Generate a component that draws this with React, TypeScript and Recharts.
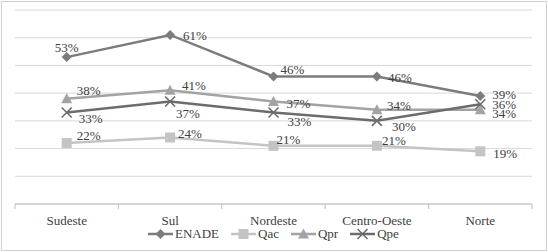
import React from "react";
import { LineChart, Line, XAxis, YAxis, CartesianGrid, LabelList } from "recharts";

// Regions and percentage values per indicator
const regions = ["Sudeste", "Sul", "Nordeste", "Centro-Oeste", "Norte"];
const enade = [53, 61, 46, 46, 39];
const qac = [22, 24, 21, 21, 19];
const qpr = [38, 41, 37, 34, 34];
const qpe = [33, 37, 33, 30, 36];
const yTicks = [0, 10, 20, 30, 40, 50, 60, 70];

const data = regions.map((region, i) => ({
  region,
  ENADE: enade[i],
  Qac: qac[i],
  Qpr: qpr[i],
  Qpe: qpe[i],
}));

const W = 548;
const H = 252;
const MARGIN = { top: 10, right: 16, bottom: 28, left: 15 };
const BAND = (W - MARGIN.left - MARGIN.right) / regions.length;
const FONT = "'Liberation Serif', 'Times New Roman', serif";
const TEXT = "#404040";

const COLORS = {
  ENADE: "#7c7c7c",
  Qac: "#c4c4c4",
  Qpr: "#a3a3a3",
  Qpe: "#6c6c6c",
};

type MarkerKind = "diamond" | "square" | "triangle" | "cross";

const Marker = ({ kind, cx, cy, color }: { kind: MarkerKind; cx: number; cy: number; color: string }) => {
  if (kind === "diamond") {
    const r = 5;
    return <polygon points={`${cx},${cy - r} ${cx + r},${cy} ${cx},${cy + r} ${cx - r},${cy}`} fill={color} />;
  }
  if (kind === "square") {
    const r = 5;
    return <rect x={cx - r} y={cy - r} width={2 * r} height={2 * r} fill={color} />;
  }
  if (kind === "triangle") {
    const r = 5.5;
    return <polygon points={`${cx},${cy - r} ${cx + r},${cy + r - 1} ${cx - r},${cy + r - 1}`} fill={color} />;
  }
  const r = 5;
  return (
    <g stroke={color} strokeWidth={1.6}>
      <line x1={cx - r} y1={cy - r} x2={cx + r} y2={cy + r} />
      <line x1={cx - r} y1={cy + r} x2={cx + r} y2={cy - r} />
    </g>
  );
};

const dotFor = (kind: MarkerKind, color: string) => (props: any) => {
  const { cx, cy, index } = props;
  if (cx == null || cy == null) return <g key={index} />;
  return <Marker key={index} kind={kind} cx={cx} cy={cy} color={color} />;
};

// Per-point label offsets (left edge of text, vertical centre) relative to the point
const LABEL_OFFSETS: Record<string, [number, number][]> = {
  ENADE: [[-12, -10], [13, 1], [7, -7], [11, 1], [12, -1]],
  Qpr: [[10, -8], [12, -5], [13, 2], [10, -4], [12, 4]],
  Qpe: [[12, 6], [6, 12], [14, 9], [15, 6], [12, 0]],
  Qac: [[10, -8], [8, -4], [3, -6], [5, -5], [13, 2]],
};

const labelFor = (key: string) => (props: any) => {
  const { x, y, value, index } = props;
  const [dx, dy] = LABEL_OFFSETS[key][index] || [8, 0];
  return (
    <text
      key={`${key}-${index}`}
      x={x + dx}
      y={y + dy}
      dominantBaseline="central"
      fontFamily={FONT}
      fontSize={13}
      fill={TEXT}
    >
      {value}%
    </text>
  );
};

// Category label plus a small tick mark on each band boundary
const CategoryTick = (props: any) => {
  const { x, y, payload, index } = props;
  const half = BAND / 2;
  const last = index === regions.length - 1;
  return (
    <g>
      <line x1={x - half} y1={y} x2={x - half} y2={y + 5} stroke="#bfbfbf" />
      {last && <line x1={x + half} y1={y} x2={x + half} y2={y + 5} stroke="#bfbfbf" />}
      <text x={x} y={y + 16} textAnchor="middle" dominantBaseline="central" fontFamily={FONT} fontSize={13} fill={TEXT}>
        {payload.value}
      </text>
    </g>
  );
};

const series: { key: "ENADE" | "Qac" | "Qpr" | "Qpe"; kind: MarkerKind }[] = [
  { key: "ENADE", kind: "diamond" },
  { key: "Qac", kind: "square" },
  { key: "Qpr", kind: "triangle" },
  { key: "Qpe", kind: "cross" },
];

const LegendRow = () => (
  <div
    style={{
      position: "absolute",
      left: 148,
      top: 226,
      display: "flex",
      alignItems: "center",
      fontFamily: FONT,
      fontSize: 13,
      color: TEXT,
      lineHeight: "16px",
    }}
  >
    {series.map((s) => (
      <div key={s.key} style={{ display: "flex", alignItems: "center", marginRight: 12 }}>
        <svg width={25} height={12} style={{ display: "block" }}>
          <line x1={0} y1={6} x2={25} y2={6} stroke={COLORS[s.key]} strokeWidth={2.5} />
          <Marker kind={s.kind} cx={12.5} cy={6} color={COLORS[s.key]} />
        </svg>
        <span style={{ marginLeft: 2 }}>{s.key}</span>
      </div>
    ))}
  </div>
);

export default function App() {
  return (
    <div style={{ position: "absolute", left: 0, top: 0, width: W, height: H, background: "#fff" }}>
      <div
        style={{
          position: "absolute",
          left: 1,
          top: 1,
          width: 546,
          height: 250,
          boxSizing: "border-box",
          border: "1px solid #d0d0d0",
        }}
      />
      <div style={{ position: "absolute", left: 0, top: 0 }}>
        <LineChart width={W} height={H} data={data} margin={MARGIN}>
          <CartesianGrid horizontal vertical={false} stroke="#d9d9d9" strokeWidth={1} />
          <YAxis hide domain={[0, 70]} ticks={yTicks} />
          <XAxis
            dataKey="region"
            height={20}
            padding={{ left: BAND / 2, right: BAND / 2 }}
            tickLine={false}
            tickSize={0}
            tickMargin={0}
            axisLine={{ stroke: "#bfbfbf" }}
            tick={<CategoryTick />}
            interval={0}
          />
          {series.map((s) => (
            <Line
              key={s.key}
              dataKey={s.key}
              stroke={COLORS[s.key]}
              strokeWidth={2.5}
              isAnimationActive={false}
              dot={dotFor(s.kind, COLORS[s.key])}
              activeDot={false}
            >
              <LabelList dataKey={s.key} content={labelFor(s.key)} />
            </Line>
          ))}
        </LineChart>
      </div>
      <LegendRow />
    </div>
  );
}
